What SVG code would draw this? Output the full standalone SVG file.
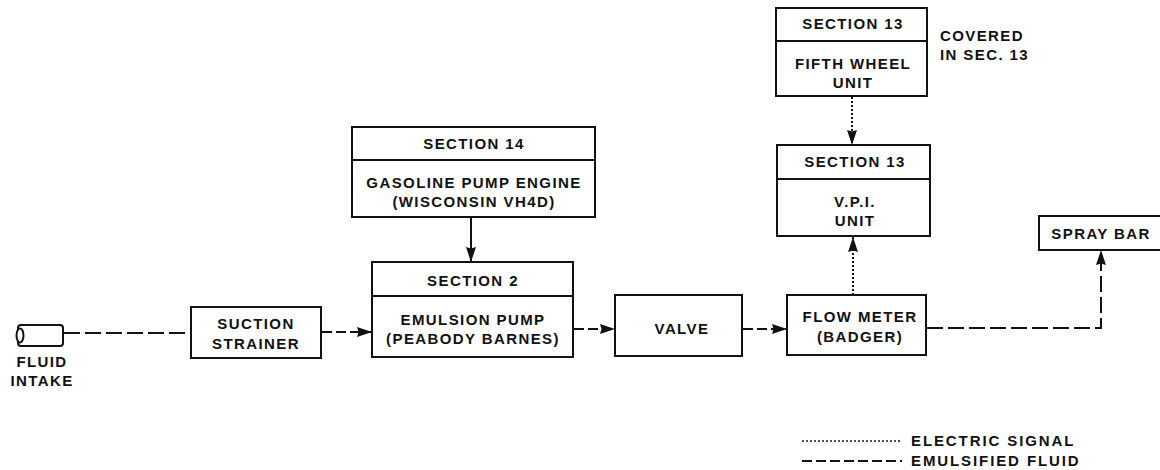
<svg xmlns="http://www.w3.org/2000/svg" width="1160" height="470" viewBox="0 0 1160 470">
<defs>
<marker id="arrow" markerUnits="userSpaceOnUse" markerWidth="16" markerHeight="12" refX="15" refY="5.500" orient="auto"><path d="M0 .5L15 5.500L0 10.500L1.500 5.500Z" fill="#111"/></marker>
</defs>
<style>
.b{fill:#fff;stroke:#111;stroke-width:2}
.d{fill:none;stroke:#111;stroke-width:2}
text{font-family:"Liberation Sans",Arial,sans-serif;font-size:15px;font-weight:bold;fill:#111;text-anchor:middle;letter-spacing:1.4px}
.l{text-anchor:start}
.w{letter-spacing:1.9px}
.dash{stroke-dasharray:16 5}
.dashs{stroke-dasharray:10 4}
.dot{stroke-dasharray:2 2}
</style>
<rect width="1160" height="470" fill="#fff"/>
<g id="connectors">
<path class="d dash" d="M64 333H190"/>
<path class="d dashs" d="M322 332H372" marker-end="url(#arrow)"/>
<path class="d" d="M471 218V262" marker-end="url(#arrow)"/>
<path class="d dashs" d="M574 329H615" marker-end="url(#arrow)"/>
<path class="d dashs" d="M743 329H787" marker-end="url(#arrow)"/>
<path class="d dot" d="M852 97V145" marker-end="url(#arrow)"/>
<path class="d dot" d="M853 295V237" marker-end="url(#arrow)"/>
<path class="d dash" d="M927 328H1101V250" marker-end="url(#arrow)"/>
<path class="d dot" d="M802 441H902" style="stroke-width:1.500"/>
<path class="d dashs" d="M802 461H902"/>
</g>
<g id="fluid-intake">
<rect class="b" x="18" y="325" width="45" height="21" rx="3"/>
<ellipse class="b" cx="20" cy="335.500" rx="3.500" ry="7"/>
<text x="42" y="367">FLUID</text>
<text x="42" y="386">INTAKE</text>
</g>
<g id="suction-strainer">
<rect class="b" x="191" y="307" width="130" height="51"/>
<text x="256" y="329">SUCTION</text>
<text x="256" y="349">STRAINER</text>
</g>
<g id="gasoline-pump-engine">
<rect class="b" x="352" y="127" width="243" height="90"/>
<path class="d" d="M352 160H595"/>
<text x="474" y="148.500">SECTION 14</text>
<text x="474" y="188">GASOLINE PUMP ENGINE</text>
<text x="474" y="207">(WISCONSIN VH4D)</text>
</g>
<g id="emulsion-pump">
<rect class="b" x="372" y="262" width="201" height="95"/>
<path class="d" d="M372 296H573"/>
<text x="473" y="285.500">SECTION 2</text>
<text x="473" y="325">EMULSION PUMP</text>
<text x="473" y="344">(PEABODY BARNES)</text>
</g>
<g id="valve">
<rect class="b" x="615" y="295" width="127" height="61"/>
<text x="682" y="334">VALVE</text>
</g>
<g id="flow-meter">
<rect class="b" x="787" y="295" width="139" height="60"/>
<text x="860" y="322">FLOW METER</text>
<text x="860" y="342">(BADGER)</text>
</g>
<g id="fifth-wheel-unit">
<rect class="b" x="776" y="8" width="151" height="88"/>
<path class="d" d="M776 41H927"/>
<text x="853" y="29">SECTION 13</text>
<text x="853" y="69">FIFTH WHEEL</text>
<text x="853" y="88">UNIT</text>
</g>
<g id="vpi-unit">
<rect class="b" x="777" y="145" width="153" height="91"/>
<path class="d" d="M777 179H930"/>
<text x="855" y="167">SECTION 13</text>
<text x="855" y="207">V.P.I.</text>
<text x="855" y="226">UNIT</text>
</g>
<g id="spray-bar">
<rect class="b" x="1039" y="216" width="124" height="34"/>
<text x="1101" y="239">SPRAY BAR</text>
</g>
<g id="labels">
<text class="l" x="940" y="41">COVERED</text>
<text class="l" x="940" y="60">IN SEC. 13</text>
<text class="l w" x="911" y="446">ELECTRIC SIGNAL</text>
<text class="l w" x="911" y="466">EMULSIFIED FLUID</text>
</g>
</svg>
